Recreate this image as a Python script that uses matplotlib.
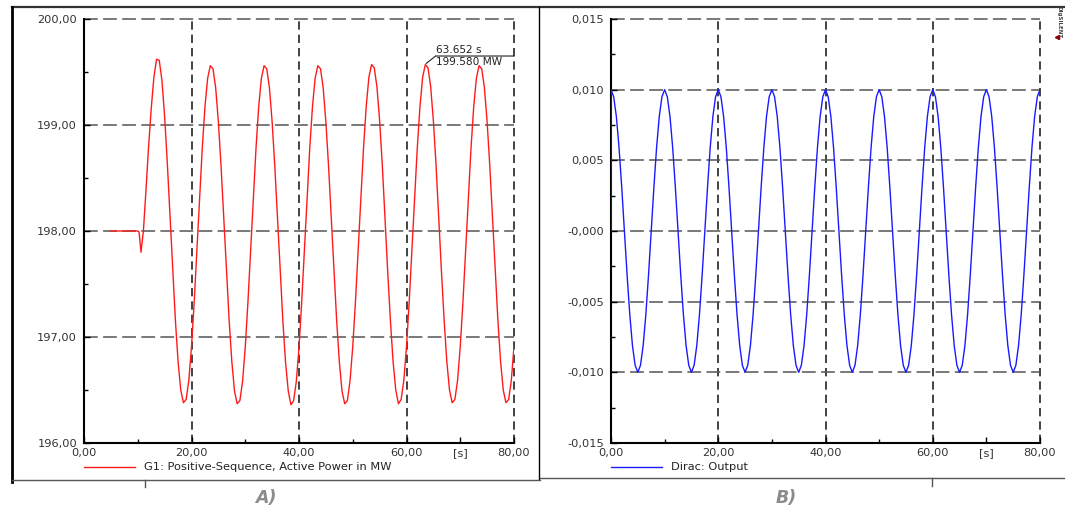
import numpy as np
import matplotlib
matplotlib.use('Agg')
import matplotlib.pyplot as plt
from matplotlib.lines import Line2D
from matplotlib.transforms import ScaledTranslation, blended_transform_factory

plt.rcParams['font.family'] = 'DejaVu Sans'

# ------------------------------------------
# Data
# ------------------------------------------

# G1 active power: steady value, small dip at the event, then the swing
t_g1_start = [5.0, 10.0, 10.25, 10.6, 11.05, 11.5, 12.0, 12.5, 13.0, 13.5]
p_g1_start = [198.00, 198.00, 197.99, 197.80, 198.00, 198.36, 198.78, 199.15, 199.45, 199.62]

# swing sampled every 0.5 s from 14 s to 80 s
t_g1_swing = np.arange(14.0, 80.01, 0.5)
p_g1_swing = [
    199.61, 199.42, 199.08, 198.64, 198.14, 197.63, 197.16, 196.77, 196.50, 196.38,
    196.41, 196.59, 196.91, 197.33, 197.82, 198.32, 198.78, 199.17, 199.44, 199.56,
    199.53, 199.35, 199.03, 198.61, 198.12, 197.62, 197.16, 196.77, 196.49, 196.37,
    196.40, 196.58, 196.90, 197.33, 197.82, 198.32, 198.78, 199.17, 199.44, 199.56,
    199.53, 199.35, 199.03, 198.61, 198.12, 197.62, 197.15, 196.76, 196.49, 196.36,
    196.40, 196.58, 196.90, 197.33, 197.82, 198.32, 198.78, 199.17, 199.44, 199.56,
    199.53, 199.35, 199.03, 198.61, 198.12, 197.62, 197.16, 196.77, 196.49, 196.37,
    196.40, 196.59, 196.91, 197.33, 197.82, 198.32, 198.78, 199.17, 199.45, 199.57,
    199.54, 199.36, 199.04, 198.62, 198.12, 197.62, 197.16, 196.77, 196.50, 196.37,
    196.41, 196.59, 196.91, 197.33, 197.82, 198.32, 198.78, 199.17, 199.45, 199.57,
    199.54, 199.36, 199.04, 198.62, 198.12, 197.62, 197.16, 196.77, 196.50, 196.38,
    196.41, 196.59, 196.91, 197.33, 197.82, 198.32, 198.78, 199.17, 199.44, 199.56,
    199.53, 199.35, 199.03, 198.61, 198.12, 197.62, 197.16, 196.77, 196.50, 196.38,
    196.41, 196.59, 196.91,
]

# marked maximum
pk_time = 63.652
pk_power = 199.580

# Dirac block output, sampled every 0.5 s (first point is the value before the step)
t_dirac = np.concatenate([[0.0], np.arange(0.0, 80.01, 0.5)])
y_dirac = [
    0.0,
    0.0100, 0.0095, 0.0081, 0.0059, 0.0031, 0.0000, -0.0031, -0.0059, -0.0081, -0.0095,
    -0.0100, -0.0095, -0.0081, -0.0059, -0.0031, 0.0000, 0.0031, 0.0059, 0.0081, 0.0095,
    0.0100, 0.0095, 0.0081, 0.0059, 0.0031, 0.0000, -0.0031, -0.0059, -0.0081, -0.0095,
    -0.0100, -0.0095, -0.0081, -0.0059, -0.0031, 0.0000, 0.0031, 0.0059, 0.0081, 0.0095,
    0.0100, 0.0095, 0.0081, 0.0059, 0.0031, 0.0000, -0.0031, -0.0059, -0.0081, -0.0095,
    -0.0100, -0.0095, -0.0081, -0.0059, -0.0031, 0.0000, 0.0031, 0.0059, 0.0081, 0.0095,
    0.0100, 0.0095, 0.0081, 0.0059, 0.0031, 0.0000, -0.0031, -0.0059, -0.0081, -0.0095,
    -0.0100, -0.0095, -0.0081, -0.0059, -0.0031, 0.0000, 0.0031, 0.0059, 0.0081, 0.0095,
    0.0100, 0.0095, 0.0081, 0.0059, 0.0031, 0.0000, -0.0031, -0.0059, -0.0081, -0.0095,
    -0.0100, -0.0095, -0.0081, -0.0059, -0.0031, 0.0000, 0.0031, 0.0059, 0.0081, 0.0095,
    0.0100, 0.0095, 0.0081, 0.0059, 0.0031, 0.0000, -0.0031, -0.0059, -0.0081, -0.0095,
    -0.0100, -0.0095, -0.0081, -0.0059, -0.0031, 0.0000, 0.0031, 0.0059, 0.0081, 0.0095,
    0.0100, 0.0095, 0.0081, 0.0059, 0.0031, 0.0000, -0.0031, -0.0059, -0.0081, -0.0095,
    -0.0100, -0.0095, -0.0081, -0.0059, -0.0031, 0.0000, 0.0031, 0.0059, 0.0081, 0.0095,
    0.0100, 0.0095, 0.0081, 0.0059, 0.0031, 0.0000, -0.0031, -0.0059, -0.0081, -0.0095,
    -0.0100, -0.0095, -0.0081, -0.0059, -0.0031, 0.0000, 0.0031, 0.0059, 0.0081, 0.0095,
    0.0100,
]

# ticks and labels
x_ticks = [0, 20, 40, 60, 70, 80]
x_labels = ['0,00', '20,00', '40,00', '60,00', '[s]', '80,00']
x_minor = [10, 30, 50]
x_grid = [20, 40, 60, 80]

yA_ticks = [196, 197, 198, 199, 200]
yA_labels = ['196,00', '197,00', '198,00', '199,00', '200,00']
yA_minor = [196.5, 197.5, 198.5, 199.5]

yB_ticks = [-0.015, -0.010, -0.005, 0.0, 0.005, 0.010, 0.015]
yB_labels = ['-0,015', '-0,010', '-0,005', '-0,000', '0,005', '0,010', '0,015']
yB_minor = [-0.0125, -0.0075, -0.0025, 0.0025, 0.0075, 0.0125]

# ------------------------------------------
# Figure
# ------------------------------------------
W, H = 1065, 508
fig = plt.figure(figsize=(W / 100, H / 100), dpi=100)
FS = 8.2

def fx(px):
    return px / W

def fy(py):
    return 1 - py / H

axA = fig.add_axes([fx(84), fy(443), fx(430), 424 / H])
axB = fig.add_axes([fx(611), fy(443), fx(429), 424 / H])


def style_axes(ax, yticks, ylabels, yminor, ygrid):
    ax.set_xlim(0, 80)
    ax.set_xticks(x_ticks)
    ax.set_xticklabels(x_labels)
    ax.set_xticks(x_minor, minor=True)
    ax.set_yticks(yticks)
    ax.set_yticklabels(ylabels)
    ax.set_yticks(yminor, minor=True)
    for s in ['top', 'right']:
        ax.spines[s].set_visible(False)
    for s in ['left', 'bottom']:
        ax.spines[s].set_linewidth(1.5)
        ax.spines[s].set_color('black')
    for v in x_grid:
        ax.axvline(v, color='#222222', lw=1.2, ls=(0, (5, 3)), clip_on=False, zorder=1)
    for v in ygrid:
        ax.axhline(v, color='#555555', lw=1.1, ls=(0, (9, 3.5)), clip_on=False, zorder=1)
    ax.tick_params(which='both', direction='in', color='black', labelcolor='#333333',
                   labelsize=FS)
    ax.tick_params(axis='x', pad=3.5)
    ax.tick_params(axis='y', pad=5)
    ax.tick_params(which='major', length=4, width=1)
    ax.tick_params(which='minor', length=3, width=1)


# --- A) generator active power
axA.plot(t_g1_start + list(t_g1_swing), p_g1_start + p_g1_swing, color='#ff1a1a', lw=1.0,
         zorder=3, label='G1: Positive-Sequence, Active Power in MW')
axA.set_ylim(196, 200)
style_axes(axA, yA_ticks, yA_labels, yA_minor, [197, 198, 199, 200])

# peak annotation: short leader, then a line to the right edge
knee = axA.transData + ScaledTranslation(6.8 / 72, 5.4 / 72, fig.dpi_scale_trans)
edge = blended_transform_factory(axA.transAxes, knee)
axA.annotate('', xy=(pk_time, pk_power), xytext=(6.8, 5.4), textcoords='offset points',
             arrowprops=dict(arrowstyle='-', lw=0.8, color='#222222', shrinkA=0, shrinkB=0))
axA.annotate('', xy=(1.0, pk_power), xycoords=edge, xytext=(pk_time, pk_power),
             textcoords=knee,
             arrowprops=dict(arrowstyle='-', lw=0.8, color='#222222', shrinkA=0, shrinkB=0))
axA.annotate('%.3f s' % pk_time, xy=(pk_time, pk_power), xytext=(6.8, 5.9),
             textcoords='offset points', ha='left', va='bottom', fontsize=7.6, color='#222222')
axA.annotate('%.3f MW' % pk_power, xy=(pk_time, pk_power), xytext=(6.8, 5.0),
             textcoords='offset points', ha='left', va='top', fontsize=7.6, color='#222222')

axA.legend(loc='center left', bbox_to_anchor=(fx(84), fy(467.5)), bbox_transform=fig.transFigure,
           frameon=False, handlelength=4.5, handletextpad=0.8, borderpad=0, borderaxespad=0,
           fontsize=FS, labelcolor='#222222')

# --- B) Dirac output
axB.plot(t_dirac, y_dirac, color='#1a1aff', lw=1.0, zorder=3, label='Dirac: Output')
axB.set_ylim(-0.015, 0.015)
style_axes(axB, yB_ticks, yB_labels, yB_minor, [-0.010, -0.005, 0.0, 0.005, 0.010, 0.015])

axB.legend(loc='center left', bbox_to_anchor=(fx(611), fy(467.5)), bbox_transform=fig.transFigure,
           frameon=False, handlelength=4.5, handletextpad=0.8, borderpad=0, borderaxespad=0,
           fontsize=FS, labelcolor='#222222')

# ------------------------------------------
# Page frame and captions
# ------------------------------------------
def frame_line(xs, ys, **kw):
    fig.add_artist(Line2D([fx(x) for x in xs], [fy(y) for y in ys],
                          transform=fig.transFigure, **kw))

frame_line([12, 1065], [7, 7], color='#333333', lw=1.6)
frame_line([12, 12], [7, 482], color='black', lw=2.0)
frame_line([539, 539], [7, 479], color='black', lw=1.0)
frame_line([12, 540], [480, 480], color='#555555', lw=1.0)
frame_line([540, 1065], [478, 478], color='#555555', lw=1.0)
frame_line([145, 145], [480, 487], color='#555555', lw=1.0)
frame_line([932, 932], [478, 486], color='#555555', lw=1.0)

fig.text(fx(266), fy(498), 'A)', ha='center', va='center', fontsize=12.5,
         fontweight='bold', style='italic', color='#8c8c8c')
fig.text(fx(786), fy(498), 'B)', ha='center', va='center', fontsize=12.5,
         fontweight='bold', style='italic', color='#8c8c8c')

fig.text(fx(1059), fy(22), 'DIgSILENT', rotation=270, ha='center', va='center',
         fontsize=4, fontweight='bold', color='#444444')
fig.add_artist(Line2D([fx(1057)], [fy(37)], transform=fig.transFigure, marker='<',
                      markersize=3, color='#8b0000', lw=0))

fig.savefig('out.png', dpi=100)
